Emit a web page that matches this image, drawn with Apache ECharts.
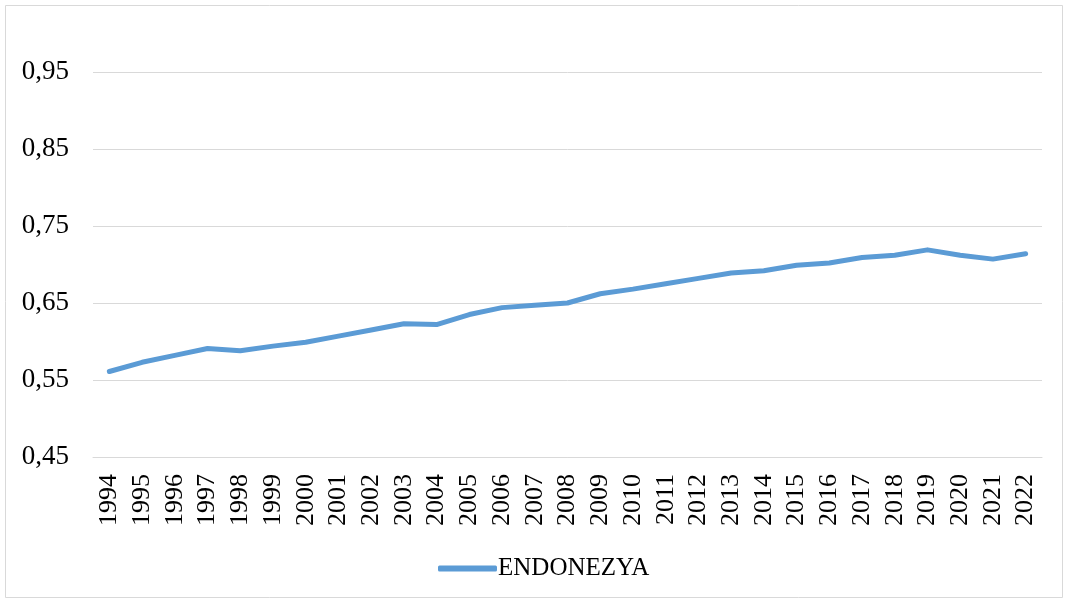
<!DOCTYPE html>
<html>
<head>
<meta charset="utf-8">
<script src="https://cdn.jsdelivr.net/npm/echarts@6/dist/echarts.min.js"></script>
<style>
  html, body { margin: 0; padding: 0; background: #fff; }
  #chart { width: 1068px; height: 601px; }
</style>
</head>
<body>
<div id="chart"></div>
<script>
const years = ['1994', '1995', '1996', '1997', '1998', '1999', '2000', '2001', '2002', '2003',
  '2004', '2005', '2006', '2007', '2008', '2009', '2010', '2011', '2012', '2013', '2014',
  '2015', '2016', '2017', '2018', '2019', '2020', '2021', '2022'];
const endonezya = [0.561, 0.573, 0.582, 0.591, 0.588, 0.594, 0.599, 0.607, 0.615, 0.623,
  0.622, 0.635, 0.644, 0.647, 0.650, 0.662, 0.668, 0.675, 0.682, 0.689, 0.692,
  0.699, 0.702, 0.709, 0.712, 0.719, 0.712, 0.707, 0.714];
const yTicks = [0.45, 0.55, 0.65, 0.75, 0.85, 0.95];

const FONT = '"Liberation Serif", "Times New Roman", serif';
const LINE_COLOR = '#5b9bd5';

const chart = echarts.init(document.getElementById('chart'));

chart.setOption({
  backgroundColor: '#fff',
  animation: false,
  textStyle: { fontFamily: FONT },
  graphic: [{
    type: 'rect',
    silent: true,
    shape: { x: 5.5, y: 5.5, width: 1057, height: 592 },
    style: { fill: 'none', stroke: '#d9d9d9', lineWidth: 1 }
  }],
  grid: { left: 93, right: 26, top: 33.5, bottom: 144 },
  legend: {
    data: ['ENDONEZYA'],
    left: 433,
    top: 551,
    icon: 'roundRect',
    itemWidth: 59,
    itemHeight: 6,
    textStyle: { color: '#000', fontSize: 25, fontFamily: FONT, padding: [0, 0, 0, -4] }
  },
  xAxis: {
    type: 'category',
    data: years,
    boundaryGap: true,
    axisLine: { show: true, lineStyle: { color: '#d9d9d9', width: 1 } },
    axisTick: { show: false },
    axisLabel: { color: '#000', fontSize: 26, fontFamily: FONT, rotate: 90, margin: 17, interval: 0 }
  },
  yAxis: {
    type: 'value',
    min: 0.45,
    max: 1.0,
    axisLine: { show: false },
    axisTick: { show: false, customValues: yTicks },
    axisLabel: {
      color: '#000', fontSize: 27, fontFamily: FONT, margin: 24,
      customValues: yTicks,
      formatter: v => v.toFixed(2).replace('.', ',')
    },
    splitLine: { show: true, lineStyle: { color: '#d9d9d9', width: 1 } }
  },
  series: [{
    name: 'ENDONEZYA',
    type: 'line',
    data: endonezya,
    symbol: 'none',
    smooth: false,
    lineStyle: { color: LINE_COLOR, width: 5, cap: 'round', join: 'round' },
    itemStyle: { color: LINE_COLOR }
  }]
});
</script>
</body>
</html>
